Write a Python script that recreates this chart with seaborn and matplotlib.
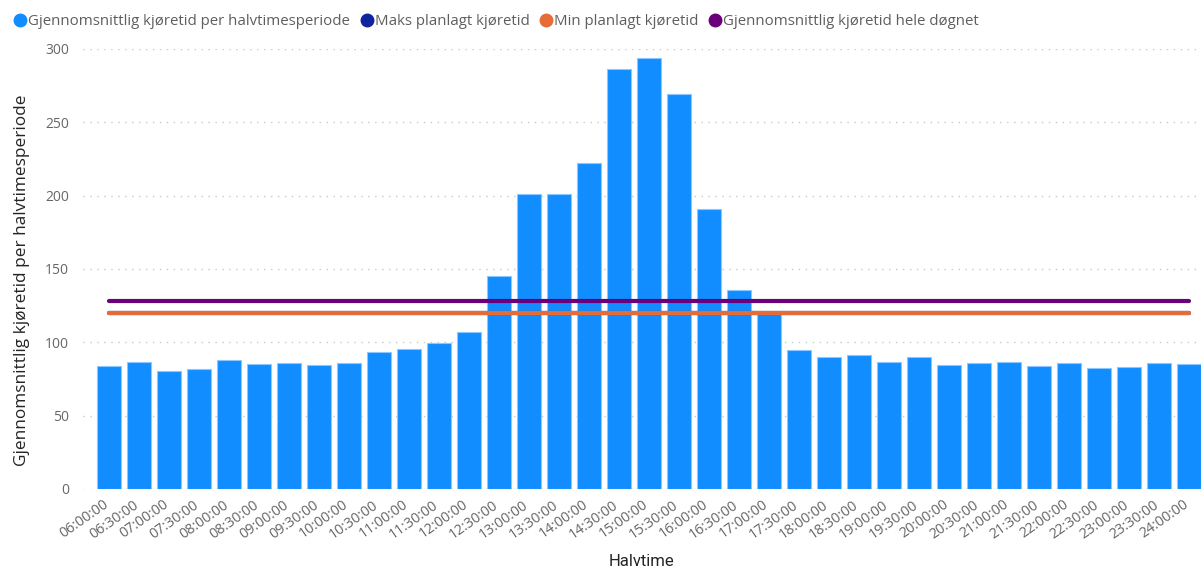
import matplotlib
matplotlib.use("Agg")
import matplotlib.pyplot as plt
import matplotlib.transforms as mtransforms
import seaborn as sns
import pandas as pd
import numpy as np
from matplotlib.lines import Line2D

# Half-hour periods and average travel time per period
halvtimer = [
    "06:00:00", "06:30:00", "07:00:00", "07:30:00", "08:00:00", "08:30:00",
    "09:00:00", "09:30:00", "10:00:00", "10:30:00", "11:00:00", "11:30:00",
    "12:00:00", "12:30:00", "13:00:00", "13:30:00", "14:00:00", "14:30:00",
    "15:00:00", "15:30:00", "16:00:00", "16:30:00", "17:00:00", "17:30:00",
    "18:00:00", "18:30:00", "19:00:00", "19:30:00", "20:00:00", "20:30:00",
    "21:00:00", "21:30:00", "22:00:00", "22:30:00", "23:00:00", "23:30:00",
    "24:00:00",
]
snitt_kjoretid = [
    84, 86.4, 80.7, 82, 87.7, 85, 86.1, 84.5, 85.9, 93.4, 95.2, 99.3,
    106.8, 145.2, 201.1, 201.1, 222.4, 286.5, 293.6, 269.3, 191.1, 135.5,
    119.5, 94.8, 89.8, 91.6, 86.6, 90, 84.5, 86.1, 86.3, 83.6, 85.9,
    82.5, 83.2, 85.9, 85,
]
maks_planlagt = 120
min_planlagt = 120
snitt_dognet = 128

labels = [
    "Gjennomsnittlig kjøretid per halvtimesperiode",
    "Maks planlagt kjøretid",
    "Min planlagt kjøretid",
    "Gjennomsnittlig kjøretid hele døgnet",
]
colors = ["#118DFF", "#12239E", "#E66C37", "#6B007B"]

df = pd.DataFrame({"Halvtime": halvtimer, "Kjoretid": snitt_kjoretid})

sns.set_style("white")
plt.rcParams["font.family"] = ["Open Sans", "DejaVu Sans"]

W, H = 1201, 568
fig = plt.figure(figsize=(W / 100, H / 100), dpi=100)
ax_left, ax_right, ax_bottom, ax_top = 83, 1201, 489, 49
ax = fig.add_axes([ax_left / W, (H - ax_bottom) / H,
                   (ax_right - ax_left) / W, (ax_bottom - ax_top) / H])

sns.barplot(data=df, x="Halvtime", y="Kjoretid", ax=ax, color=colors[0],
            saturation=1, width=0.8, edgecolor="#8cc8ff", linewidth=0.8,
            zorder=2)

n = len(halvtimer)
xs = np.arange(n)
sns.lineplot(x=xs, y=[maks_planlagt] * n, ax=ax, color=colors[1], linewidth=3,
             zorder=3, solid_capstyle="round")
sns.lineplot(x=xs, y=[min_planlagt] * n, ax=ax, color=colors[2], linewidth=3,
             zorder=4, solid_capstyle="round")
sns.lineplot(x=xs, y=[snitt_dognet] * n, ax=ax, color=colors[3], linewidth=3,
             zorder=5, solid_capstyle="round")

# pixel spacing of 30 between categories, first centre at x=108.7
px = 30.0
c0 = 108.7
ax.set_xlim((ax_left - c0) / px, (ax_right - c0) / px)
ax.set_ylim(0, 300)
ax.set_yticks([0, 50, 100, 150, 200, 250, 300])
ax.yaxis.grid(True, linestyle=(0, (1, 4)), color="#c8c8c8", linewidth=1)
ax.xaxis.grid(False)
for s in ax.spines.values():
    s.set_visible(False)

ax.tick_params(axis="y", length=0, pad=10, labelsize=10, labelcolor="#666666")
ax.tick_params(axis="x", length=0, pad=6, labelsize=10.3, labelcolor="#666666")
shift = mtransforms.ScaledTranslation(-6 / 100, 0, fig.dpi_scale_trans)
for t in ax.get_xticklabels():
    t.set_rotation(35)
    t.set_ha("right")
    t.set_va("top")
    t.set_rotation_mode("anchor")
    t.set_transform(t.get_transform() + shift)

ax.set_xlabel("Halvtime", fontsize=12, color="#252423",
              family=["Roboto", "DejaVu Sans"])
ax.xaxis.set_label_coords(0.5, (ax_bottom - 562) / (ax_bottom - ax_top))
ax.xaxis.label.set_va("center")
ax.set_ylabel("Gjennomsnittlig kjøretid per halvtimesperiode", fontsize=12.4,
              color="#252423", family=["Open Sans", "DejaVu Sans"])
ax.yaxis.set_label_coords((22 - ax_left) / (ax_right - ax_left),
                          (ax_bottom - 280) / (ax_bottom - ax_top))
ax.yaxis.label.set_va("center")

handles = [Line2D([0], [0], marker="o", linestyle="", markersize=9,
                  markerfacecolor=c, markeredgecolor=c) for c in colors]
fig.legend(handles, labels, loc="upper left", bbox_to_anchor=(0.001, 0.993),
           ncol=4, frameon=False, fontsize=10.8, handletextpad=0.0,
           columnspacing=0.55, borderaxespad=0.3, labelcolor="#605E5C",
           handlelength=1.1)

fig.savefig("out.png", dpi=100)
